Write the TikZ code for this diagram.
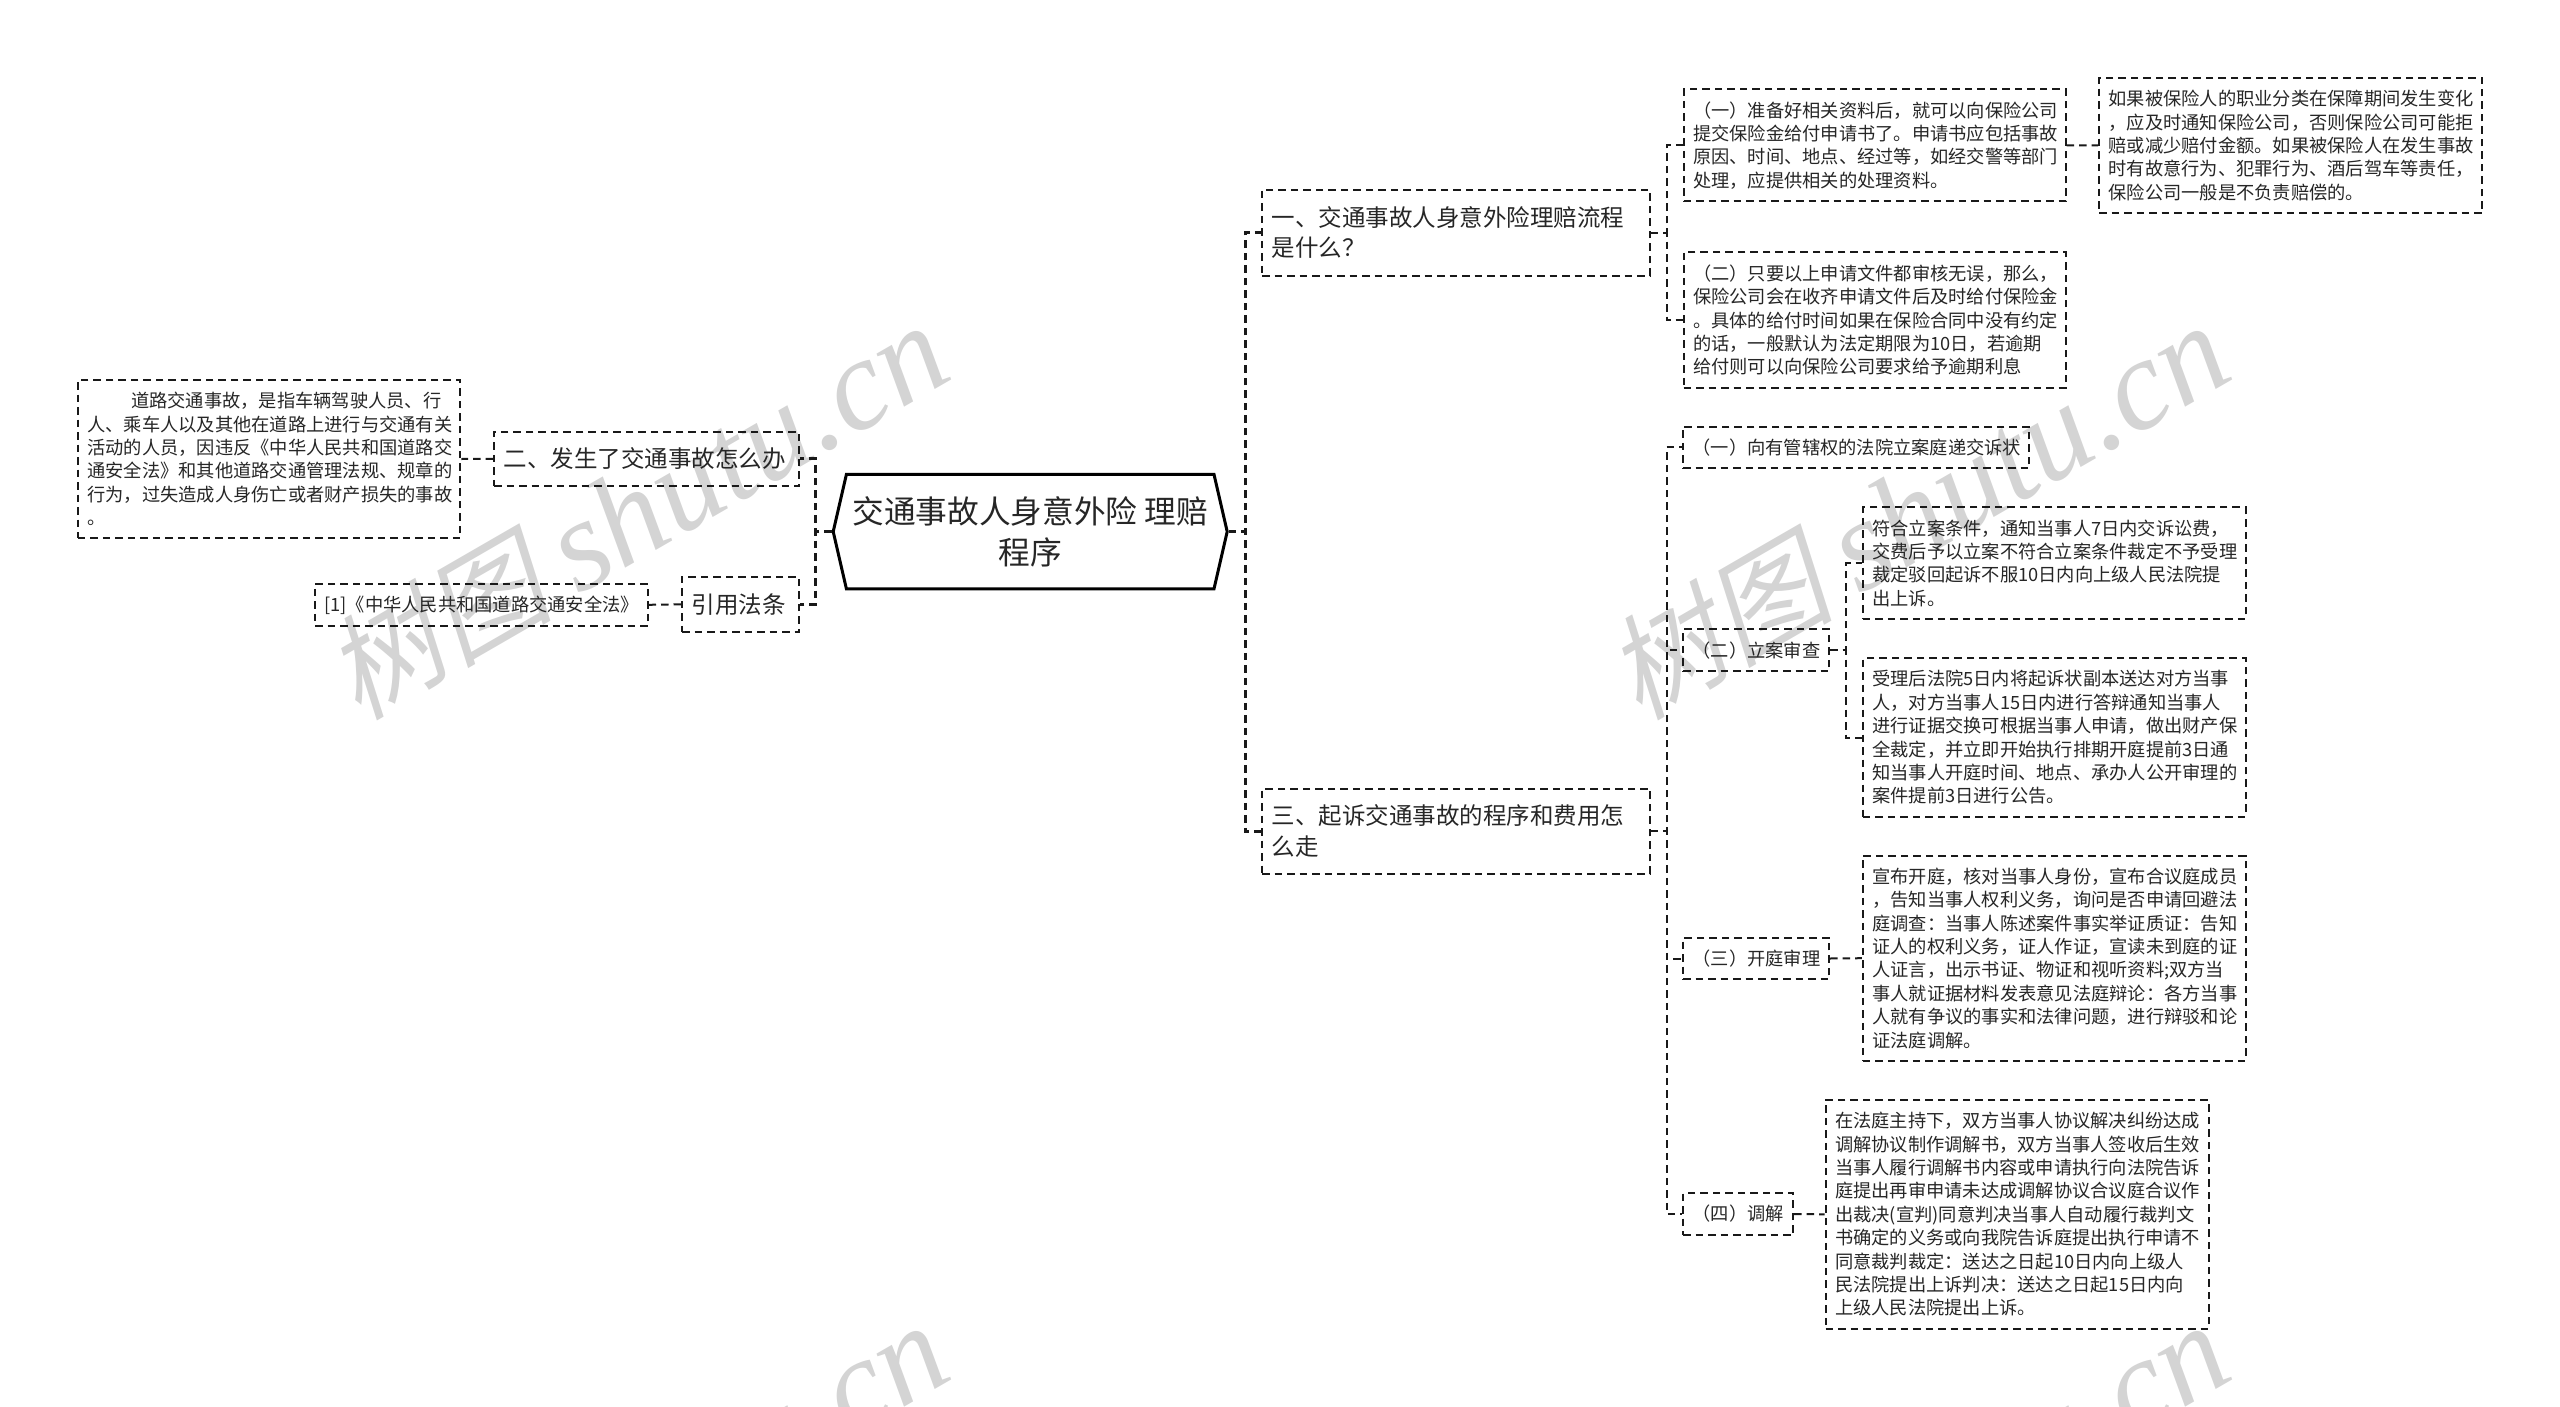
\documentclass[tikz,border=0pt]{standalone}
\usepackage{fontspec}
\setmainfont{Noto Sans CJK SC}
\newfontfamily\markfont[FakeSlant=0.22]{Noto Sans CJK SC}
\newfontfamily\marklatin{Liberation Serif}
\usetikzlibrary{shapes.symbols}

\begin{document}
\begin{tikzpicture}[x=1pt, y=-1pt, text=black!85]
    \tikzstyle{box}=[draw=black!90, line width=2pt, dash pattern=on 7.5pt off 5pt, inner xsep=9.5pt, inner ysep=0pt, align=left]
    \tikzstyle{small box}=[box, font=\fontsize{18.25pt}{23.4pt}\selectfont]
    \tikzstyle{large box}=[box, font=\fontsize{23.5pt}{30.5pt}\selectfont]
    \tikzstyle{root box}=[draw=black, line width=3pt, align=center, inner sep=0pt, font=\fontsize{31.7pt}{41pt}\selectfont,
        signal, signal to=west and east, signal pointer angle=154]
    \tikzstyle{link}=[draw=black!90, line width=2pt, dash pattern=on 7.5pt off 5pt]
    \tikzstyle{root link}=[link, line width=3pt]
    \tikzstyle{watermark}=[text=black!17, rotate=30, inner sep=0pt]

    \useasboundingbox (0,0) rectangle (2560,1407);

    % watermark, repeated across the page
    \foreach \dx/\dy [count=\i] in {0/0, 1281/0, 0/1000, 1281/1000}
    \node [watermark] (watermark-\i) at (636+\dx,512+\dy) {{\fontsize{114pt}{114pt}\selectfont\markfont 树图}\hspace{25pt}{\fontsize{130pt}{130pt}\selectfont\marklatin\itshape shutu.cn}};

    % the centre
    \node [root box, minimum width=394pt, minimum height=114.6pt] (root) at (1030.2,531.6)
    {交通事故人身意外险 理赔\\程序};

    % first level
    \node [large box, text width=368.6pt, minimum height=86pt] (r1) at (1455.8,232.6)
    {一、交通事故人身意外险理赔流程\\是什么？};
    \node [large box, text width=368.6pt, minimum height=85.3pt] (r3) at (1455.8,831.2)
    {三、起诉交通事故的程序和费用怎\\么走};
    \node [large box, text width=286pt, minimum height=54.3pt] (l1) at (646.5,458.9)
    {二、发生了交通事故怎么办};
    \node [large box, text width=98pt, minimum height=54.7pt] (l2) at (740.5,604.3)
    {引用法条};

    % under the first question
    \node [small box, text width=363pt, minimum height=112pt] (a1) at (1874.5,145.3)
    {（一）准备好相关资料后，就可以向保险公司\\提交保险金给付申请书了。申请书应包括事故\\原因、时间、地点、经过等，如经交警等部门\\处理，应提供相关的处理资料。};
    \node [small box, text width=364pt, minimum height=135.6pt] (a1-note) at (2290.5,145.5)
    {如果被保险人的职业分类在保障期间发生变化\\，应及时通知保险公司，否则保险公司可能拒\\赔或减少赔付金额。如果被保险人在发生事故\\时有故意行为、犯罪行为、酒后驾车等责任，\\保险公司一般是不负责赔偿的。};
    \node [small box, text width=363pt, minimum height=135.4pt] (a2) at (1874.5,320)
    {（二）只要以上申请文件都审核无误，那么，\\保险公司会在收齐申请文件后及时给付保险金\\。具体的给付时间如果在保险合同中没有约定\\的话，一般默认为法定期限为10日，若逾期\\给付则可以向保险公司要求给予逾期利息};

    % under the third question
    \node [small box, text width=327.3pt, minimum height=41.3pt] (b1) at (1856.2,447.3)
    {（一）向有管辖权的法院立案庭递交诉状};
    \node [small box, text width=127pt, minimum height=41.7pt] (b2) at (1756,650.2)
    {（二）立案审查};
    \node [small box, text width=127pt, minimum height=41.6pt] (b3) at (1756,958.5)
    {（三）开庭审理};
    \node [small box, text width=91pt, minimum height=42pt] (b4) at (1738,1214)
    {（四）调解};
    \node [small box, text width=363.7pt, minimum height=111.7pt] (b2-a) at (2054.2,563.2)
    {符合立案条件，通知当事人7日内交诉讼费，\\交费后予以立案不符合立案条件裁定不予受理\\裁定驳回起诉不服10日内向上级人民法院提\\出上诉。};
    \node [small box, text width=363.7pt, minimum height=158.4pt] (b2-b) at (2054.2,737.5)
    {受理后法院5日内将起诉状副本送达对方当事\\人，对方当事人15日内进行答辩通知当事人\\进行证据交换可根据当事人申请，做出财产保\\全裁定，并立即开始执行排期开庭提前3日通\\知当事人开庭时间、地点、承办人公开审理的\\案件提前3日进行公告。};
    \node [small box, text width=363.7pt, minimum height=205pt] (b3-a) at (2054.2,958.2)
    {宣布开庭，核对当事人身份，宣布合议庭成员\\，告知当事人权利义务，询问是否申请回避法\\庭调查：当事人陈述案件事实举证质证：告知\\证人的权利义务，证人作证，宣读未到庭的证\\人证言，出示书证、物证和视听资料;双方当\\事人就证据材料发表意见法庭辩论：各方当事\\人就有争议的事实和法律问题，进行辩驳和论\\证法庭调解。};
    \node [small box, text width=364pt, minimum height=228.7pt] (b4-a) at (2017.2,1214.3)
    {在法庭主持下，双方当事人协议解决纠纷达成\\调解协议制作调解书，双方当事人签收后生效\\当事人履行调解书内容或申请执行向法院告诉\\庭提出再审申请未达成调解协议合议庭合议作\\出裁决(宣判)同意判决当事人自动履行裁判文\\书确定的义务或向我院告诉庭提出执行申请不\\同意裁判裁定：送达之日起10日内向上级人\\民法院提出上诉判决：送达之日起15日内向\\上级人民法院提出上诉。};

    % left side
    \node [small box, text width=363.5pt, minimum height=158pt] (l1-note) at (269.2,459)
    {\hspace*{2.4em}道路交通事故，是指车辆驾驶人员、行\\人、乘车人以及其他在道路上进行与交通有关\\活动的人员，因违反《中华人民共和国道路交\\通安全法》和其他道路交通管理法规、规章的\\行为，过失造成人身伤亡或者财产损失的事故\\。};
    \node [small box, text width=314pt, minimum height=41.7pt] (l2-note) at (481.5,604.8)
    {[1]《中华人民共和国道路交通安全法》};

    % bends of the connectors
    \coordinate (hub-r) at (1245,0);
    \coordinate (hub-l) at (815.7,0);
    \coordinate (hub-a) at (1666.5,0);
    \coordinate (hub-b) at (1666.5,0);
    \coordinate (hub-c) at (1845.6,0);

    % from the centre
    \foreach \m in {r1, r3}
    \draw [root link] (root.east) -- (hub-r |- root.east) |- (\m.west);
    \foreach \m in {l1, l2}
    \draw [root link] (root.west) -- (hub-l |- root.west) |- (\m.east);

    % from the questions to their items
    \foreach \m in {a1, a2}
    \draw [link] (r1.east) -- (hub-a |- r1.east) |- (\m.west);
    \foreach \m in {b1, b2, b3, b4}
    \draw [link] (r3.east) -- (hub-b |- r3.east) |- (\m.west);
    \foreach \m in {b2-a, b2-b}
    \draw [link] (b2.east) -- (hub-c |- b2.east) |- (\m.west);

    % straight ones
    \foreach \m/\n in {a1/a1-note, b3/b3-a, b4/b4-a}
    \draw [link] (\m.east) -- (\n.west);
    \foreach \m/\n in {l1/l1-note, l2/l2-note}
    \draw [link] (\m.west) -- (\n.east);
\end{tikzpicture}
\end{document}
